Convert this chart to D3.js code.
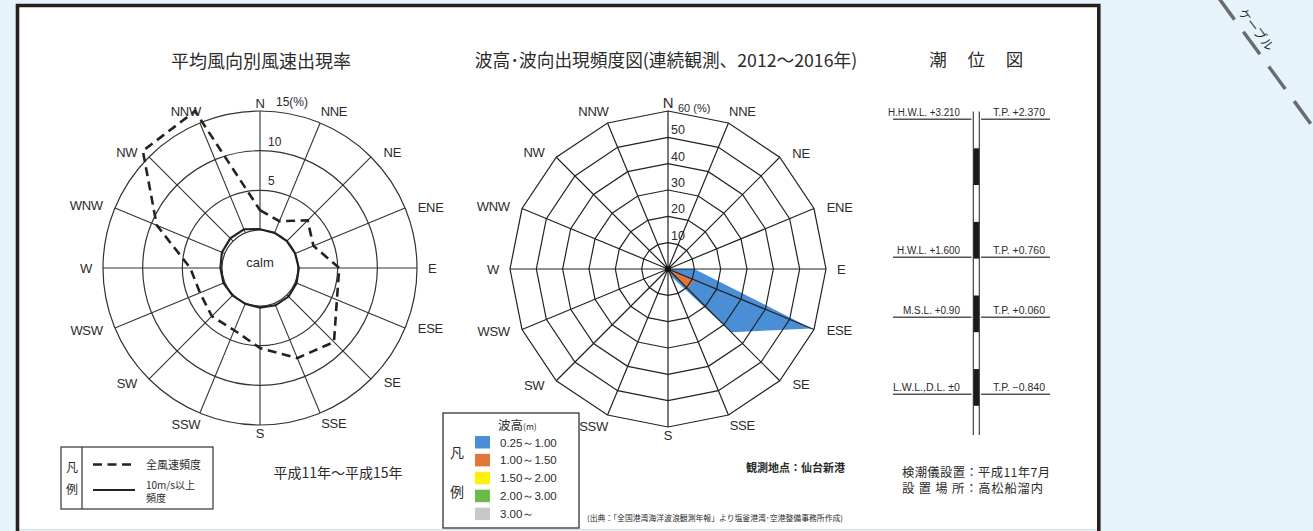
<!DOCTYPE html>
<html><head><meta charset="utf-8">
<script src="https://cdn.jsdelivr.net/npm/d3@7/dist/d3.min.js"></script>
<style>
body{margin:0;background:#e6f3fb;}
svg{display:block}
text{font-family:"Liberation Sans",Arial,sans-serif;fill:#2b2b2b}
.jp{font-family:"Noto Sans CJK JP",sans-serif}
</style>
</head><body>
<svg id="c" width="1313" height="531"></svg>
<script>
// ---------- data ----------
const directions = ["N","NNE","NE","ENE","E","ESE","SE","SSE","S","SSW","SW","WSW","W","WNW","NW","NNW"];
// wind rose (%), all speeds and >=10 m/s
const windAll    = [2.5,1.6,3.7,2.5,5.2,5.7,8.4,7.5,5.3,3.7,3.8,3.4,4.0,9.3,16.1,16.6];
const windStrong = [0.1,0,0,0,0.1,0.2,0.3,0.3,0.2,0.1,0.1,0.2,0.2,0.4,0.5,0.5];
const windTicks = [5,10,15];
// wave rose (%), cumulative by wave height class
const waveTicks = [10,20,30,40,50,60];
const waveBands = ["0.25～1.00","1.00～1.50","1.50～2.00","2.00～3.00","3.00～"];
const waveColors = ["#4a8fd6","#e0763a","#fff200","#6cbb4a","#c8c8c8"];
const wave025 = [0,0,0,0,10,59,34,3,0,0,0,0,0,0,0,0];
const wave100 = [0,0,0,0,0,11,10.5,0,0,0,0,0,0,0,0,0];
const wave150 = [0,0,0,0,0,1.2,0,0,0,0,0,0,0,0,0,0];
const wave200 = [0,0,0,0,0,0,0,0,0,0,0,0,0,0,0,0];
const wave300 = [0,0,0,0,0,0,0,0,0,0,0,0,0,0,0,0];
// tide levels
const tideNames = ["H.H.W.L.","H.W.L.","M.S.L.","L.W.L.,D.L."];
const tideDL = [3.210,1.600,0.90,0];
const tideDLText = ["+3.210","+1.600","+0.90","±0"];
const tideTPText = ["+2.370","+0.760","+0.060","−0.840"];

// ---------- drawing ----------
const svg = d3.select("#c");
svg.append("rect").attr("width",1313).attr("height",531).attr("fill","#e6f3fb");
svg.append("rect").attr("x",17).attr("y",5).attr("width",1082).attr("height",524).attr("fill","#fff");
svg.append("line").attr("x1",17).attr("x2",1099).attr("y1",529.5).attr("y2",529.5).attr("stroke","#ddd").attr("stroke-width",1);
svg.append("path").attr("d","M17.5,531 L17.5,5.5 L1098.8,5.5 L1098.8,531")
  .attr("fill","none").attr("stroke","#2a1f1f").attr("stroke-width",3.6);

// cable decoration
svg.append("line").attr("x1",1218).attr("y1",-3).attr("x2",1316).attr("y2",131)
  .attr("stroke","#6b6b6b").attr("stroke-width",3.5).attr("stroke-dasharray","28,15");
svg.append("text").attr("class","jp").attr("transform","translate(1257,29) rotate(53)")
  .attr("text-anchor","middle").attr("dominant-baseline","central")
  .attr("font-size",12.5).attr("fill","#444").text("ケーブル");

const A = i => i*2*Math.PI/directions.length;
function placeLabels(g, base, sizeFn){
  g.selectAll("text.d").data(directions).join("text").attr("class","d")
    .attr("text-anchor","middle").attr("dominant-baseline","central")
    .attr("font-size",sizeFn).attr("letter-spacing",-0.3).text(d=>d)
    .each(function(d,i){
      const w = this.getComputedTextLength();
      const fs = +this.getAttribute("font-size");
      const t = A(i);
      const t2 = t + (4*Math.PI/180)*Math.sin(2*t);
      const R = base + (w/2+8)*Math.abs(Math.sin(t)) + (fs/2-1.5)*Math.abs(Math.cos(t));
      d3.select(this).attr("x",R*Math.sin(t2)).attr("y",-R*Math.cos(t2));
    });
}

// ===== Wind rose =====
const rW = d3.scaleLinear().domain([0,15]).range([38,157]);
const gw = svg.append("g").attr("transform","translate(260,268)");
svg.append("text").attr("class","jp").attr("x",261).attr("y",68).attr("text-anchor","middle")
  .attr("font-size",18).text("平均風向別風速出現率");
gw.selectAll("circle.g").data([0].concat(windTicks)).join("circle")
  .attr("r",d=>rW(d)).attr("fill","none").attr("stroke","#333").attr("stroke-width",1.2);
gw.selectAll("line.s").data(directions).join("line")
  .attr("x1",(d,i)=>rW(0)*Math.sin(A(i))).attr("y1",(d,i)=>-rW(0)*Math.cos(A(i)))
  .attr("x2",(d,i)=>rW(15)*Math.sin(A(i))).attr("y2",(d,i)=>-rW(15)*Math.cos(A(i)))
  .attr("stroke","#333").attr("stroke-width",1.1);
const lineW = d3.lineRadial().angle((d,i)=>A(i)).radius(d=>rW(d)).curve(d3.curveLinearClosed);
gw.append("path").attr("d",lineW(windStrong)).attr("fill","none").attr("stroke","#222").attr("stroke-width",2.2);
gw.append("path").attr("d",lineW(windAll)).attr("fill","none").attr("stroke","#222")
  .attr("stroke-width",2.6).attr("stroke-dasharray","9,5.5");
gw.selectAll("text.t").data(windTicks).join("text")
  .attr("x",d=>d===15?16:8).attr("y",d=>-rW(d)-5).attr("font-size",12)
  .text(d=>d===15?"15(%)":d);
gw.append("text").attr("x",0).attr("y",-1).attr("text-anchor","middle").attr("font-size",13).text("calm");
placeLabels(gw,160,()=>13);

// wind legend
const lg = svg.append("g");
lg.append("rect").attr("x",61).attr("y",447).attr("width",152).attr("height",62)
  .attr("fill","none").attr("stroke","#333").attr("stroke-width",1.2);
lg.append("line").attr("x1",82).attr("x2",82).attr("y1",447).attr("y2",509).attr("stroke","#333").attr("stroke-width",1.2);
lg.append("text").attr("class","jp").attr("x",72).attr("y",472).attr("text-anchor","middle").attr("font-size",12).text("凡");
lg.append("text").attr("class","jp").attr("x",72).attr("y",494).attr("text-anchor","middle").attr("font-size",12).text("例");
lg.append("line").attr("x1",93).attr("x2",135).attr("y1",464.5).attr("y2",464.5).attr("stroke","#222").attr("stroke-width",2.6).attr("stroke-dasharray","9,5.5");
lg.append("line").attr("x1",93).attr("x2",135).attr("y1",490).attr("y2",490).attr("stroke","#222").attr("stroke-width",2);
lg.append("text").attr("class","jp").attr("x",146).attr("y",468.5).attr("font-size",11).text("全風速頻度");
const l2 = lg.append("text").attr("class","jp").attr("x",146).attr("y",489).attr("font-size",10);
l2.append("tspan").attr("x",146).text("10m/s以上");
l2.append("tspan").attr("x",146).attr("dy",13).text("頻度");
svg.append("text").attr("class","jp").attr("x",338).attr("y",478).attr("text-anchor","middle").attr("font-size",14).text("平成11年～平成15年");

// ===== Wave rose =====
const rV = d3.scaleLinear().domain([0,60]).range([0,158]);
const gv = svg.append("g").attr("transform","translate(668,269)");
svg.append("text").attr("class","jp").attr("x",666).attr("y",67).attr("text-anchor","middle")
  .attr("font-size",17.7).text("波高･波向出現頻度図(連続観測、2012～2016年)");
const lineV = d3.lineRadial().angle((d,i)=>A(i)).radius(d=>rV(d)).curve(d3.curveLinearClosed);
[wave025,wave100,wave150,wave200,wave300].forEach((arr,k)=>{
  if (d3.max(arr)>0) gv.append("path").attr("d",lineV(arr)).attr("fill",waveColors[k]).attr("stroke","none");
});
waveTicks.forEach(t=>{
  gv.append("path").attr("d",lineV(directions.map(()=>t))).attr("fill","none").attr("stroke","#222").attr("stroke-width",1.2);
});
gv.selectAll("line.s").data(directions).join("line")
  .attr("x1",0).attr("y1",0)
  .attr("x2",(d,i)=>rV(60)*Math.sin(A(i))).attr("y2",(d,i)=>-rV(60)*Math.cos(A(i)))
  .attr("stroke","#222").attr("stroke-width",1.2);
gv.append("circle").attr("r",3).attr("fill","#111");
gv.selectAll("text.t").data(waveTicks).join("text")
  .attr("x",d=>d===60?10:3).attr("y",d=>d===60?-rV(d)+1:-rV(d)-3)
  .attr("font-size",d=>d===60?11:12.5)
  .text(d=>d===60?"60 (%)":d);
placeLabels(gv,161,(d,i)=>i===0?15:13);

// wave legend
const wl = svg.append("g");
wl.append("rect").attr("x",443).attr("y",413).attr("width",136).attr("height",115)
  .attr("fill","#fff").attr("stroke","#333").attr("stroke-width",1.3);
const wt = wl.append("text").attr("class","jp").attr("x",498).attr("y",430).attr("font-size",12.5);
wt.append("tspan").text("波高");
wt.append("tspan").attr("font-size",8.5).text("(m)");
wl.append("text").attr("class","jp").attr("x",457).attr("y",458).attr("text-anchor","middle").attr("font-size",14).text("凡");
wl.append("text").attr("class","jp").attr("x",457).attr("y",497).attr("text-anchor","middle").attr("font-size",14).text("例");
wl.selectAll("rect.sw").data(waveBands).join("rect")
  .attr("x",475).attr("y",(d,i)=>436+i*17.9).attr("width",15).attr("height",12.5)
  .attr("fill",(d,i)=>waveColors[i]);
wl.selectAll("text.b").data(waveBands).join("text")
  .attr("x",500).attr("y",(d,i)=>446.5+i*17.9).attr("font-size",11.5).text(d=>d);
svg.append("text").attr("class","jp").attr("x",845).attr("y",472).attr("text-anchor","end")
  .attr("font-size",11).attr("font-weight","bold").attr("fill","#444").text("観測地点：仙台新港");
svg.append("text").attr("class","jp").attr("x",587).attr("y",521).attr("font-size",7.5)
  .attr("textLength",256).attr("lengthAdjust","spacingAndGlyphs").attr("fill","#444")
  .text("(出典：「全国港湾海洋波浪観測年報」より塩釜港湾･空港整備事務所作成)");

// ===== Tide =====
const tY = d3.scaleLinear().domain([0,3.21]).range([394.3,119.3]);
svg.append("text").attr("class","jp").attr("x",977).attr("y",66).attr("text-anchor","middle")
  .attr("font-size",17.5).attr("letter-spacing",1.6).text("潮　位　図");
const tg = svg.append("g");
[0,1,2,3].forEach(k=>{
  tg.append("rect").attr("x",973.3).attr("y",148.3+k*73.6).attr("width",6).attr("height",36.7).attr("fill","#1a1a1a");
});
[973.3,979.3].forEach(x=>tg.append("line").attr("x1",x).attr("x2",x).attr("y1",111.5).attr("y2",435).attr("stroke","#333").attr("stroke-width",1.1));
tideDL.forEach((v,i)=>{
  const y = tY(v);
  tg.append("line").attr("x1",893).attr("x2",971.5).attr("y1",y).attr("y2",y).attr("stroke","#555").attr("stroke-width",1.5);
  tg.append("line").attr("x1",981).attr("x2",1050).attr("y1",y).attr("y2",y).attr("stroke","#555").attr("stroke-width",1.5);
  const lt = tideNames[i]+"  "+tideDLText[i];
  tg.append("text").attr("x",960).attr("y",y-3).attr("text-anchor","end").attr("font-size",10)
    .attr("textLength",[72,63,57,67][i]).attr("lengthAdjust","spacingAndGlyphs").text(lt);
  tg.append("text").attr("x",993).attr("y",y-3).attr("font-size",10)
    .attr("textLength",52).attr("lengthAdjust","spacingAndGlyphs").text("T.P.  "+tideTPText[i]);
});
svg.append("text").attr("class","jp").attr("x",902).attr("y",476.5).attr("font-size",12.3)
  .attr("textLength",148).attr("lengthAdjust","spacing").text("検潮儀設置：平成11年7月");
svg.append("text").attr("class","jp").attr("x",902).attr("y",492.5).attr("font-size",12.3)
  .attr("textLength",141).attr("lengthAdjust","spacing").text("設 置 場 所：高松船溜内");
</script>
</body></html>
